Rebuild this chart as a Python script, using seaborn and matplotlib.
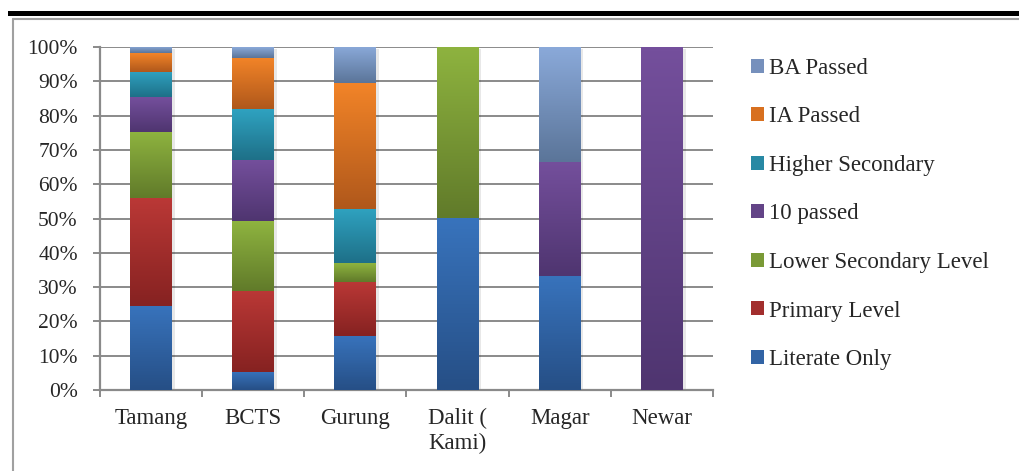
import numpy as np
import pandas as pd
import matplotlib
matplotlib.use("Agg")
import matplotlib.pyplot as plt
import matplotlib.patheffects as pe
from matplotlib.colors import LinearSegmentedColormap
from matplotlib.patches import Rectangle
import seaborn as sns

categories = ["Tamang", "BCTS", "Gurung", "Dalit (\nKami)", "Magar", "Newar"]
series = ["Literate Only", "Primary Level", "Lower Secondary Level", "10 passed",
          "Higher Secondary", "IA Passed", "BA Passed"]
literate_only = [24.5, 5.3, 15.8, 50.0, 33.3, 0.0]
primary_level = [31.4, 23.7, 15.8, 0.0, 0.0, 0.0]
lower_secondary = [19.3, 20.4, 5.3, 50.0, 0.0, 0.0]
ten_passed = [10.1, 17.8, 0.0, 0.0, 33.3, 100.0]
higher_secondary = [7.4, 14.6, 15.8, 0.0, 0.0, 0.0]
ia_passed = [5.5, 15.0, 36.8, 0.0, 0.0, 0.0]
ba_passed = [1.8, 3.2, 10.5, 0.0, 33.4, 0.0]
values = [literate_only, primary_level, lower_secondary, ten_passed,
          higher_secondary, ia_passed, ba_passed]
y_ticks = list(range(0, 101, 10))

top_colors = ["#3873BC", "#BA3836", "#8EB33F", "#744F9C", "#2FA2C0", "#F28428", "#8AA9D9"]
bot_colors = ["#264F86", "#862221", "#617B2A", "#4F3570", "#1E7088", "#B0581B", "#5B7599"]
base_colors = ["#3264A5", "#A22E2D", "#7A9A36", "#634487", "#2889A4", "#D8701F", "#7690BC"]

sns.set_style("white")
plt.rcParams["font.family"] = ["Liberation Serif", "DejaVu Serif"]
FS_Y = 15.5
FS_T = 16.5

fig = plt.figure(figsize=(10.19, 4.71), dpi=100)
ax = fig.add_axes([100 / 1019, 1 - 390 / 471, (713 - 100) / 1019, (390 - 47) / 471])

bottom = np.zeros(len(categories))
for s, vals, col in zip(series, values, base_colors):
    sns.barplot(x=categories, y=vals, bottom=bottom, color=col, width=0.41,
                saturation=1, ax=ax, zorder=3, linewidth=0, order=categories)
    bottom = bottom + np.array(vals)

ax.set_xlim(-0.5, len(categories) - 0.5)
ax.set_ylim(0, 100)

# gradient fills on bars
patches = list(ax.patches)
n = len(categories)
for i, p in enumerate(patches):
    si = i // n
    x0, y0 = p.get_x(), p.get_y()
    w, h = p.get_width(), p.get_height()
    if h <= 0:
        continue
    cmap = LinearSegmentedColormap.from_list("g", [bot_colors[si], top_colors[si]])
    grad = np.linspace(0, 1, 64).reshape(-1, 1)
    ax.imshow(grad, extent=[x0, x0 + w, y0, y0 + h], origin="lower", cmap=cmap,
              aspect="auto", zorder=3.5, interpolation="bilinear")

# soft shadows behind full stacks
for j in range(n):
    p0 = patches[j]
    x0, w = p0.get_x(), p0.get_width()
    r = Rectangle((x0, 0), w, bottom[j], facecolor="white", edgecolor="none", zorder=2.5)
    r.set_path_effects([pe.SimplePatchShadow(offset=(2.0, -1.5), shadow_rgbFace="k", alpha=0.09),
                        pe.Normal()])
    ax.add_patch(r)

ax.set_xlim(-0.5, len(categories) - 0.5)
ax.set_ylim(0, 100)

# grid and axes
ax.set_yticks(y_ticks)
ax.set_yticklabels([f"{v}%" for v in y_ticks], fontsize=FS_Y)
ax.yaxis.grid(True, color="#8A8A8A", linewidth=1.4, zorder=1)
ax.set_axisbelow(True)
ax.xaxis.grid(False)
for side in ["top", "right"]:
    ax.spines[side].set_visible(False)
for side in ["left", "bottom"]:
    ax.spines[side].set_color("#8A8A8A")
    ax.spines[side].set_linewidth(1.6)
ax.tick_params(axis="y", direction="out", length=5, width=1.4, color="#8A8A8A",
               pad=11, labelsize=FS_Y, left=True)
ax.set_xticks(range(n))
ax.set_xticklabels(categories, fontsize=FS_T, multialignment="center")
ax.tick_params(axis="x", which="major", length=0, pad=13)
ax.set_xticks(np.arange(-0.5, n, 1.0), minor=True)
ax.tick_params(axis="x", which="minor", direction="out", length=5, width=1.4,
               color="#8A8A8A", bottom=True)
ax.set_xlabel("")
ax.set_ylabel("")

# legend
handles = [Rectangle((0, 0), 1, 1, facecolor=c, edgecolor="none") for c in base_colors]
leg = fig.legend(handles[::-1], series[::-1], loc="upper left",
                 bbox_to_anchor=(751 / 1019, 1 - 58 / 471), frameon=False,
                 fontsize=FS_T, handlelength=0.55, handleheight=0.55,
                 handletextpad=0.25, labelspacing=1.2, borderpad=0, borderaxespad=0)

# page decorations
fig.add_artist(Rectangle((8 / 1019, 1 - 15.7 / 471), 1, 5 / 471, transform=fig.transFigure,
                         facecolor="black", edgecolor="none"))
fig.add_artist(plt.Line2D([13 / 1019, 1], [1 - 18.5 / 471, 1 - 18.5 / 471],
                          transform=fig.transFigure, color="#A0A0A0", linewidth=1.5))
fig.add_artist(plt.Line2D([13 / 1019, 13 / 1019], [0, 1 - 18.5 / 471],
                          transform=fig.transFigure, color="#A0A0A0", linewidth=1.5))

fig.savefig("out.png", dpi=100)
